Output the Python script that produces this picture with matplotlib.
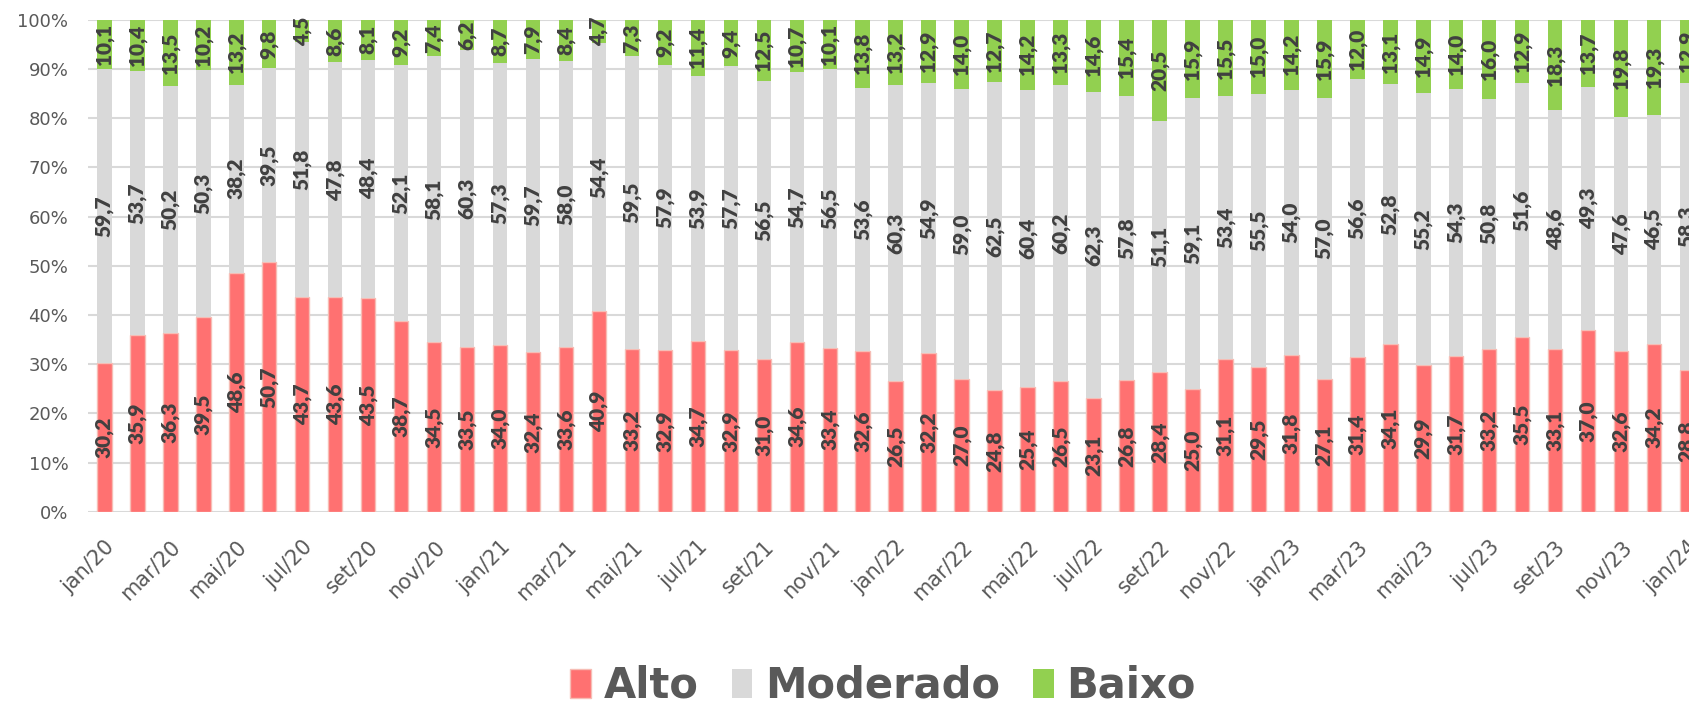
import numpy as np
import matplotlib.pyplot as plt
from matplotlib.patches import Patch

# monthly series jan/20 .. jan/24
months = ['jan', 'fev', 'mar', 'abr', 'mai', 'jun', 'jul', 'ago', 'set', 'out', 'nov', 'dez']
periods = [f"{m}/{y}" for y in range(20, 24) for m in months] + ['jan/24']

alto = [30.2, 35.9, 36.3, 39.5, 48.6, 50.7, 43.7, 43.6, 43.5, 38.7, 34.5, 33.5,
        34.0, 32.4, 33.6, 40.9, 33.2, 32.9, 34.7, 32.9, 31.0, 34.6, 33.4, 32.6,
        26.5, 32.2, 27.0, 24.8, 25.4, 26.5, 23.1, 26.8, 28.4, 25.0, 31.1, 29.5,
        31.8, 27.1, 31.4, 34.1, 29.9, 31.7, 33.2, 35.5, 33.1, 37.0, 32.6, 34.2,
        28.8]
moderado = [59.7, 53.7, 50.2, 50.3, 38.2, 39.5, 51.8, 47.8, 48.4, 52.1, 58.1, 60.3,
            57.3, 59.7, 58.0, 54.4, 59.5, 57.9, 53.9, 57.7, 56.5, 54.7, 56.5, 53.6,
            60.3, 54.9, 59.0, 62.5, 60.4, 60.2, 62.3, 57.8, 51.1, 59.1, 53.4, 55.5,
            54.0, 57.0, 56.6, 52.8, 55.2, 54.3, 50.8, 51.6, 48.6, 49.3, 47.6, 46.5,
            58.3]
baixo = [10.1, 10.4, 13.5, 10.2, 13.2, 9.8, 4.5, 8.6, 8.1, 9.2, 7.4, 6.2,
         8.7, 7.9, 8.4, 4.7, 7.3, 9.2, 11.4, 9.4, 12.5, 10.7, 10.1, 13.8,
         13.2, 12.9, 14.0, 12.7, 14.2, 13.3, 14.6, 15.4, 20.5, 15.9, 15.5, 15.0,
         14.2, 15.9, 12.0, 13.1, 14.9, 14.0, 16.0, 12.9, 18.3, 13.7, 19.8, 19.3,
         12.9]

c_alto, c_mod, c_baixo = '#FF7171', '#D9D9D9', '#92D050'
txt = '#404040'
tick_col = '#595959'

fig = plt.figure(figsize=(16.9, 7.07), dpi=100)
# plot area runs past the right edge, like the original
ax = fig.add_axes([0.052, 0.276, 0.956, 0.696])

x = np.arange(len(periods))
a = np.array(alto)
m = np.array(moderado)
b = np.array(baixo)
w = 0.44

ax.bar(x, a, w, color=c_alto, edgecolor='#F6BDB5', linewidth=1, zorder=3)
ax.bar(x, m, w, bottom=a, color=c_mod, zorder=3)
ax.bar(x, b, w, bottom=a + m, color=c_baixo, zorder=3)

def fmt(v):
    return f"{v:.1f}".replace('.', ',')

for i in x:
    for val, bot in ((a[i], 0), (m[i], a[i]), (b[i], a[i] + m[i])):
        ax.text(i, bot + val / 2, fmt(val), rotation=90, ha='center', va='center',
                fontsize=15, fontweight='heavy', family='Lato', color=txt, zorder=4)

ax.set_xlim(-0.5, len(periods) - 0.5)
ax.set_ylim(0, 100)
ax.set_yticks(np.arange(0, 101, 10))
ax.set_yticklabels([f"{t}%" for t in range(0, 101, 10)])
ax.set_xticks(x[::2])
ax.set_xticklabels(periods[::2], rotation=45, ha='right', rotation_mode='anchor')
ax.tick_params(axis='both', length=0, labelcolor=tick_col)
ax.tick_params(axis='y', pad=14, labelsize=13)
ax.tick_params(axis='x', pad=18, labelsize=15)
ax.grid(axis='y', color='#D9D9D9', linewidth=1.5, zorder=0)
ax.set_axisbelow(True)
for s in ax.spines.values():
    s.set_visible(False)

handles = [Patch(facecolor=c_alto, edgecolor='#F6BDB5'),
           Patch(facecolor=c_mod),
           Patch(facecolor=c_baixo)]
fig.legend(handles, ['Alto', 'Moderado', 'Baixo'], loc='center', ncol=3,
           bbox_to_anchor=(883 / 1690, 1 - 686 / 707), frameon=False,
           prop={'family': 'DejaVu Sans', 'weight': 'bold', 'size': 30},
           labelcolor=tick_col, handlelength=0.5, handleheight=0.7,
           handletextpad=0.3, columnspacing=0.8)

fig.savefig('out.png', dpi=100)
